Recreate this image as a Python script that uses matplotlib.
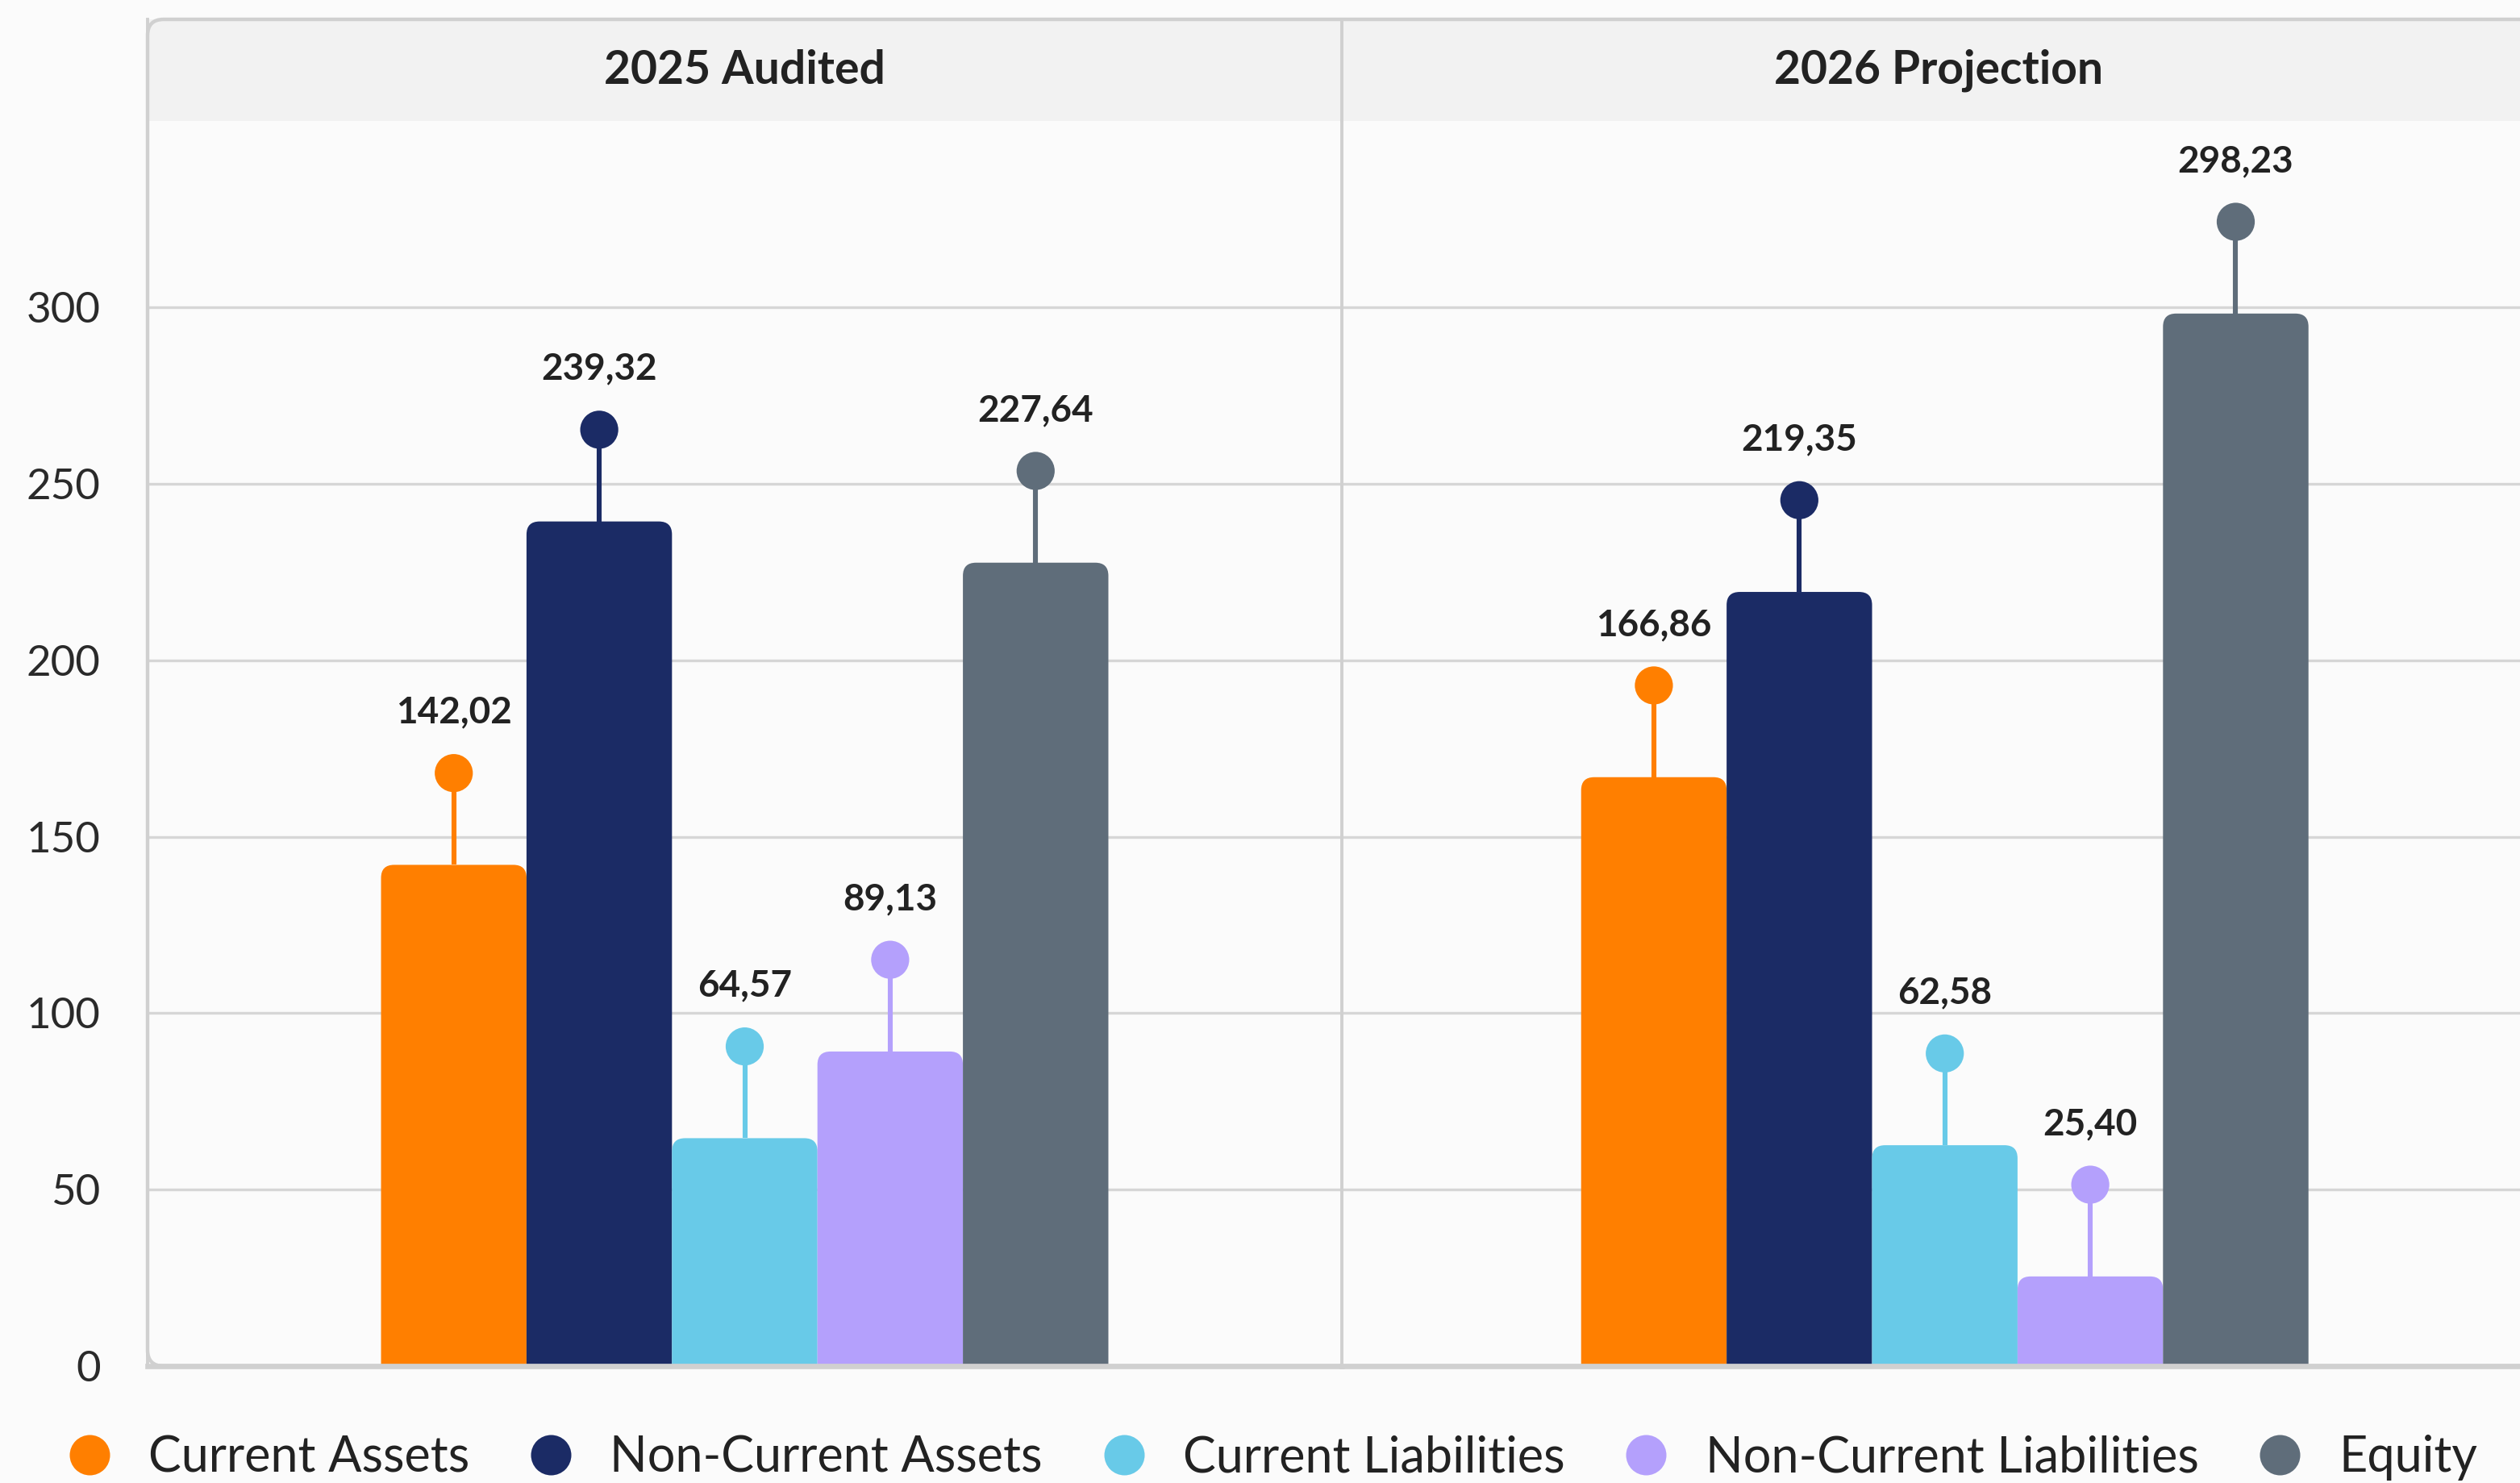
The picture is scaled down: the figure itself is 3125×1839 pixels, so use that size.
import numpy as np
import matplotlib.pyplot as plt
from matplotlib.patches import FancyBboxPatch
from matplotlib.lines import Line2D

"""
资产负债结构: 2025 审计 vs 2026 预测

"""

panels = ['2025 Audited', '2026 Projection']
items = ['Current Assets', 'Non-Current Assets', 'Current Liabilities', 'Non-Current Liabilities', 'Equity']
color = ['#FF7F00', '#1B2B65', '#68CAE8', '#B4A0FC', '#5F6D7A']

# 数据 (单位同原图)
data_2025 = [142.02, 239.32, 64.57, 89.13, 227.64]
data_2026 = [166.86, 219.35, 62.58, 25.40, 298.23]

plt.rcParams['font.family'] = ['Lato', 'DejaVu Sans']
plt.rcParams['figure.facecolor'] = '#fbfbfb'
plt.rcParams['axes.facecolor'] = '#fbfbfb'

W, H = 3125, 1839  # 输出像素
x0, x1, x2 = 183, 1664, 3157  # 面板左/中/右边界 (px)
yb, ys, yt = 1694, 150, 24  # 底边 / 标题栏底 / 顶 (px)
stem = 26  # 棒棒糖高度
ytop = 352.8
shift = [0.0, -0.04]  # 右侧面板柱组略偏右
fs = 20.5

fig = plt.figure(figsize=(W / 200, H / 200), dpi=200)

for k, data in enumerate([data_2025, data_2026]):
    left = [x0, x1][k] / W
    width = (x1 - x0) / W
    ax = plt.axes([left, (H - yb) / H, width, (yb - ys) / H])
    pos = np.arange(len(data)) - 2
    bars = plt.bar(pos, height=data, width=1.0, color=color, zorder=2)
    # 圆角柱子
    for b, c in zip(bars, color):
        b.set_visible(False)
        ax.add_patch(FancyBboxPatch((b.get_x(), -6), b.get_width(), b.get_height() + 6,
                                    boxstyle='round,pad=0,rounding_size=0.09', mutation_aspect=41,
                                    facecolor=c, edgecolor='none', zorder=2))
    plt.vlines(pos, np.array(data), np.array(data) + stem, colors=color, lw=2.2, zorder=3)
    plt.scatter(pos, np.array(data) + stem, s=17 ** 2, c=color, zorder=4, edgecolors='none')
    for p, v in zip(pos, data):
        plt.annotate(('%.2f' % v).replace('.', ','), (p, v + stem), xytext=(0, 27), textcoords='offset points',
                     ha='center', va='center', fontsize=16.5, fontweight='bold', color='#222222')
    plt.xlim(-4.105 + shift[k], 4.105 + shift[k])
    plt.ylim(0, ytop)
    plt.yticks(np.arange(0, 301, 50))
    plt.xticks([])
    plt.grid(axis='y', color='#d6d6d6', lw=1.2, zorder=0)
    ax.set_axisbelow(True)
    for sp in ['top', 'right']:
        ax.spines[sp].set_visible(False)
    ax.spines['left'].set_color('#d0d0d0')
    ax.spines['left'].set_linewidth(1.4)
    ax.spines['bottom'].set_color('#d0d0d0')
    ax.spines['bottom'].set_linewidth(2.4)
    ax.spines['bottom'].set_zorder(5)
    if k == 0:
        plt.tick_params(axis='y', length=0, pad=21, labelsize=19, labelcolor='#2a2a2a')
    else:
        plt.tick_params(axis='y', length=0, labelleft=False)

    # 标题栏
    sx = plt.axes([left, (H - ys) / H, width, (ys - yt) / H])
    sx.set_facecolor('#f2f2f2')
    plt.xticks([])
    plt.yticks([])
    for sp in ['top', 'right', 'bottom']:
        sx.spines[sp].set_visible(False)
    sx.spines['left'].set_color('#d0d0d0')
    sx.spines['left'].set_linewidth(1.4)
    plt.text(0.5, 0.5, panels[k], ha='center', va='center', fontsize=fs, fontweight='bold',
             color='#222222', transform=sx.transAxes)

# 外框 (圆角)
frame = FancyBboxPatch((x0 / 200, (H - yb) / 200), (x2 - x0) / 200, (yb - yt) / 200,
                       boxstyle='round,pad=0,rounding_size=0.1', transform=fig.dpi_scale_trans,
                       facecolor='none', edgecolor='#d0d0d0', lw=1.6, zorder=10)
fig.patches.append(frame)

handles = [Line2D([], [], ls='none', marker='o', markersize=18, markerfacecolor=c, markeredgecolor='none')
           for c in color]
fig.legend(handles, items, loc='center left', bbox_to_anchor=(0.008, 1 - 1808 / H), ncol=5, frameon=False,
           fontsize=22, handlelength=1.0, handletextpad=0.7, columnspacing=1.15, labelcolor='#222222')

plt.savefig('out.png', dpi=200, facecolor=fig.get_facecolor())
